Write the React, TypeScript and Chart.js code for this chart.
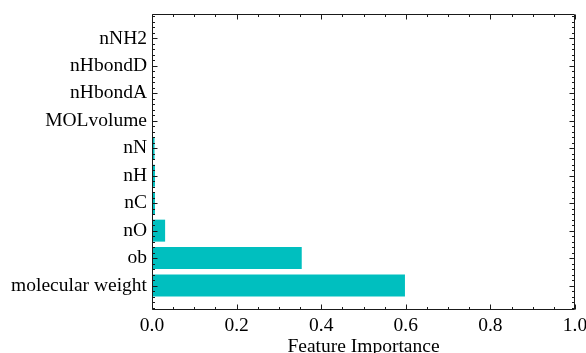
import React, { useEffect, useRef } from "react";
import { Chart, registerables } from "chart.js";
Chart.register(...registerables);

// Data (bottom to top)
const categories = [
  "molecular weight",
  "ob",
  "nO",
  "nC",
  "nH",
  "nN",
  "MOLvolume",
  "nHbondA",
  "nHbondD",
  "nNH2",
];
const importance = [0.598, 0.354, 0.031, 0.007, 0.007, 0.006, 0, 0, 0, 0];
const xTickValues = [0, 0.2, 0.4, 0.6, 0.8, 1.0];
const xLabel = "Feature Importance";

const BAR_COLOR = "#00BFBF";
const AXIS_COLOR = "#1a1a1a";
const FONT_FAMILY = "'Liberation Serif', 'DejaVu Serif', serif";
const FONT_SIZE = 19.5;

const barFrac = 0.8;
const yMargin = 0.05 * (categories.length - 1 + barFrac);
const yMin = -barFrac / 2 - yMargin;
const yMax = categories.length - 1 + barFrac / 2 + yMargin;

const frameTicks = {
  id: "frameTicks",
  afterDatasetsDraw(chart: any) {
    const { ctx, chartArea, scales } = chart;
    const { left, right, top, bottom } = chartArea;
    const xs = scales.x;
    const ys = scales.y;
    const L = Math.round(left) + 0.5;
    const R = Math.round(right) - 0.5;
    const T = Math.round(top) + 0.5;
    const B = Math.round(bottom) - 0.5;
    ctx.save();
    ctx.strokeStyle = AXIS_COLOR;
    ctx.lineWidth = 1;
    ctx.beginPath();
    ctx.rect(L, T, R - L, B - T);
    ctx.stroke();
    const major = 5;
    const minor = 2.5;
    ctx.beginPath();
    // x ticks every 0.05, major every 0.2
    for (let i = 0; i <= 20; i++) {
      const v = i * 0.05;
      const px = Math.round(xs.getPixelForValue(v)) + 0.5;
      const len = i % 4 === 0 ? major : minor;
      ctx.moveTo(px, B);
      ctx.lineTo(px, B - len);
      ctx.moveTo(px, T);
      ctx.lineTo(px, T + len);
    }
    // y ticks every 0.2, major every 1
    for (let i = -4; i <= (categories.length - 1) * 5 + 4; i++) {
      const v = i / 5;
      const py = Math.round(ys.getPixelForValue(v)) + 0.5;
      const len = ((i % 5) + 5) % 5 === 0 ? major : minor;
      ctx.moveTo(L, py);
      ctx.lineTo(L + len, py);
      ctx.moveTo(R, py);
      ctx.lineTo(R - len, py);
    }
    ctx.stroke();
    ctx.restore();
  },
};

export default function App() {
  const ref = useRef<HTMLCanvasElement | null>(null);
  useEffect(() => {
    if (!ref.current) return;
    const chart = new Chart(ref.current, {
      type: "bar",
      data: {
        datasets: [
          {
            data: categories.map((_, i) => ({ x: importance[i], y: i })),
            backgroundColor: BAR_COLOR,
            borderWidth: 0,
            barPercentage: barFrac,
            categoryPercentage: 1,
          },
        ],
      },
      options: {
        animation: false,
        responsive: false,
        indexAxis: "y",
        layout: { padding: { top: 14, right: 11, left: 0, bottom: 0 } },
        plugins: { legend: { display: false }, tooltip: { enabled: false } },
        scales: {
          x: {
            type: "linear",
            min: 0,
            max: 1,
            offset: false,
            grid: { display: false, drawTicks: false },
            border: { display: false },
            afterBuildTicks: (s: any) => {
              s.ticks = xTickValues.map((v) => ({ value: v }));
            },
            ticks: {
              color: "#000",
              padding: 4,
              maxRotation: 0,
              font: { family: FONT_FAMILY, size: FONT_SIZE },
              callback: (v: any) => Number(v).toFixed(1),
            },
            title: {
              display: true,
              text: xLabel,
              color: "#000",
              font: { family: FONT_FAMILY, size: FONT_SIZE, lineHeight: 1 },
              padding: { top: 0, bottom: -4 },
            },
            afterFit: (s: any) => {
              s.height = 43;
              s.paddingLeft = 0;
              s.paddingRight = 0;
            },
          },
          y: {
            type: "linear",
            min: yMin,
            max: yMax,
            offset: false,
            grid: { display: false, drawTicks: false },
            border: { display: false },
            afterBuildTicks: (s: any) => {
              s.ticks = categories.map((_, i) => ({ value: i }));
            },
            ticks: {
              color: "#000",
              padding: 5,
              font: { family: FONT_FAMILY, size: FONT_SIZE },
              callback: (v: any) => categories[Math.round(Number(v))],
            },
            afterFit: (s: any) => {
              s.width = 152;
              s.paddingTop = 0;
              s.paddingBottom = 0;
            },
          },
        },
      } as any,
      plugins: [frameTicks],
    });
    return () => chart.destroy();
  }, []);
  return (
    <div style={{ position: "absolute", left: 0, top: 0, width: 586, height: 353, background: "#fff" }}>
      <canvas ref={ref} width={586} height={353} />
    </div>
  );
}
